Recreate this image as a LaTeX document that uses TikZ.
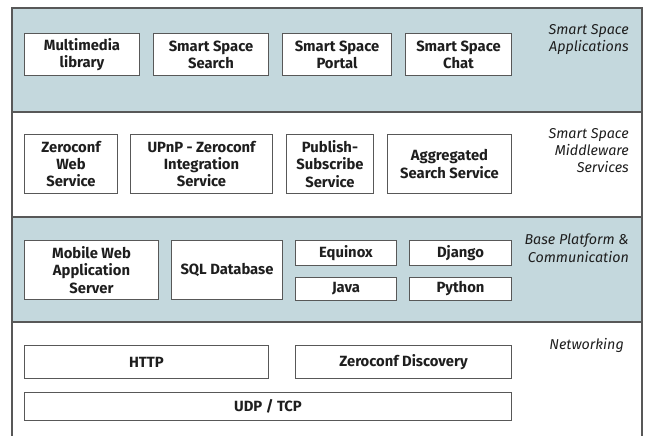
\documentclass[tikz,border=0pt]{standalone}
\usepackage{fontspec}
\setmainfont{Fira Sans}
\usetikzlibrary{positioning}
\definecolor{bandblue}{RGB}{196,216,221}
\definecolor{framegrey}{RGB}{88,88,88}
\definecolor{inkgrey}{RGB}{30,30,30}

\begin{document}
\begin{tikzpicture}[x=1pt,y=-1pt,
		box/.style={rectangle,draw=framegrey,fill=white,line width=1pt,inner sep=0pt,
			anchor=north west,align=center,text=inkgrey,
			font=\fontsize{14.8}{17.2}\selectfont\bfseries},
		layername/.style={anchor=north east,align=right,inner sep=0pt,text=inkgrey,
			font=\fontsize{14.3}{17.2}\selectfont\itshape},
		band/.style={draw=framegrey,line width=1.2pt}]
		\useasboundingbox (0,0) rectangle (646,436);
		
		% layers
		\filldraw[band,fill=bandblue] (12,8) rectangle (642,112);
		\draw[band,fill=white] (12,112) rectangle (642,217);
		\filldraw[band,fill=bandblue] (12,217) rectangle (642,322);
		\draw[band] (12,440) -- (12,322) -- (642,322) -- (642,440);
		
		\node[layername] (lapps)  at (629,24)  {Smart Space\\Applications};
		\node[layername] (lmid)   at (629,128) {Smart Space\\Middleware\\Services};
		\node[layername] (lbase)  at (629,234) {Base Platform \&\\Communication};
		\node[layername] (lnet)   at (624,338) {Networking};
		
		% applications
		\node[box,minimum width=115,minimum height=42] (media)  at (24,33)  {Multimedia\\library};
		\node[box,minimum width=115,minimum height=42] (search) at (153,33) {Smart Space\\Search};
		\node[box,minimum width=109,minimum height=42] (portal) at (282,33) {Smart Space\\Portal};
		\node[box,minimum width=106,minimum height=42] (chat)   at (405,33) {Smart Space\\Chat};
		
		% middleware services
		\node[box,minimum width=93,minimum height=59]  (zcweb)  at (24,134)  {Zeroconf\\Web\\Service};
		\node[box,minimum width=142,minimum height=59] (upnp)   at (130,134) {UPnP - Zeroconf\\Integration\\Service};
		\node[box,minimum width=87,minimum height=59]  (pubsub) at (286,134) {Publish-\\Subscribe\\Service};
		\node[box,minimum width=124,minimum height=59] (aggr)   at (387,134) {Aggregated\\Search Service};
		
		% base platform
		\node[box,minimum width=134,minimum height=59] (mwas)    at (24,240)  {Mobile Web\\Application\\Server};
		\node[box,minimum width=111,minimum height=59] (sql)     at (171,240) {SQL Database};
		\node[box,minimum width=101,minimum height=25] (equinox) at (295,240) {Equinox};
		\node[box,minimum width=101,minimum height=23] (java)    at (295,277) {Java};
		\node[box,minimum width=102,minimum height=25] (django)  at (409,240) {Django};
		\node[box,minimum width=102,minimum height=23] (python)  at (409,277) {Python};
		
		% networking
		\node[box,minimum width=244,minimum height=33] (http)  at (24,345)  {HTTP};
		\node[box,minimum width=216,minimum height=33] (zcdisc) at (295,345) {Zeroconf Discovery};
		\node[box,minimum width=487,minimum height=28] (udptcp) at (24,392)  {UDP / TCP};
		\end{tikzpicture}
\end{document}
